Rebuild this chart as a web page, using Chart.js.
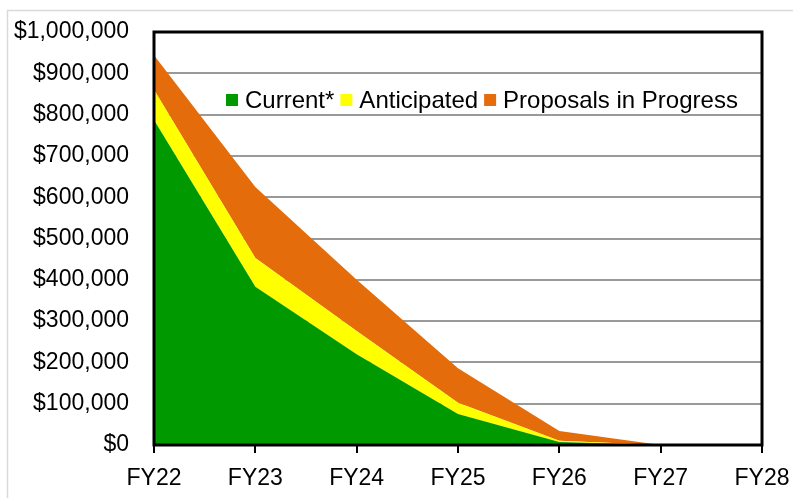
<!DOCTYPE html>
<html>
<head>
<meta charset="utf-8">
<script src="https://cdn.jsdelivr.net/npm/chart.js@4"></script>
<style>
  html, body { margin: 0; padding: 0; background: #fff; }
  canvas { display: block; }
</style>
</head>
<body>
<canvas id="chart" width="793" height="498"></canvas>
<script>
const years = ['FY22', 'FY23', 'FY24', 'FY25', 'FY26', 'FY27', 'FY28'];
const current = [787000, 383000, 220000, 75000, 7000, 0, 0];
const anticipated = [73000, 70000, 56000, 27000, 3000, 0, 0];
const proposals = [84000, 172000, 124000, 84000, 24000, 0, 0];

const FONT = '"Liberation Sans", Arial, sans-serif';

// frame around plot + light outer border
const framePlugin = {
  id: 'frame',
  beforeDraw(chart) {
    const ctx = chart.ctx;
    ctx.save();
    ctx.strokeStyle = '#d9d9d9';
    ctx.lineWidth = 1.5;
    ctx.strokeRect(7.5, 10.5, 900, 600);
    ctx.restore();
  },
  afterDraw(chart) {
    const a = chart.chartArea;
    const ctx = chart.ctx;
    ctx.save();
    ctx.strokeStyle = '#000';
    ctx.lineWidth = 3;
    ctx.strokeRect(a.left, a.top, a.right - a.left, a.bottom - a.top);
    ctx.restore();
  }
};

// legend drawn inside the plot area
const legendPlugin = {
  id: 'innerLegend',
  afterDraw(chart) {
    const ctx = chart.ctx;
    ctx.save();
    ctx.font = '24px ' + FONT;
    ctx.textBaseline = 'middle';
    let x = 226;
    const y = 100;
    chart.data.datasets.forEach(ds => {
      ctx.fillStyle = ds.backgroundColor;
      ctx.fillRect(x, y - 6, 12, 12);
      x += 19;
      ctx.fillStyle = '#000';
      ctx.fillText(ds.label, x, y + 1);
      x += ctx.measureText(ds.label).width + 6;
    });
    ctx.restore();
  }
};

new Chart(document.getElementById('chart'), {
  type: 'line',
  data: {
    labels: years,
    datasets: [
      { label: 'Current*', data: current, backgroundColor: '#009900', fill: 'origin' },
      { label: 'Anticipated', data: anticipated, backgroundColor: '#ffff00', fill: '-1' },
      { label: 'Proposals in Progress', data: proposals, backgroundColor: '#e46c0a', fill: '-1' }
    ]
  },
  options: {
    responsive: false,
    animation: false,
    devicePixelRatio: 1,
    elements: {
      line: { borderWidth: 0, tension: 0 },
      point: { radius: 0 }
    },
    layout: { padding: { top: 32, right: 31, left: 0, bottom: 0 } },
    plugins: {
      legend: { display: false },
      tooltip: { enabled: false }
    },
    scales: {
      x: {
        offset: false,
        grid: { drawOnChartArea: false, drawTicks: true, tickLength: 8, color: '#000', lineWidth: 2 },
        border: { display: false },
        ticks: { color: '#000', font: { family: FONT, size: 23 }, padding: 12, maxRotation: 0 },
        afterFit(scale) {
          scale.height = 53;
          scale.paddingLeft = 0;
          scale.paddingRight = 0;
        }
      },
      y: {
        stacked: true,
        min: 0,
        max: 1000000,
        grid: { color: '#999', lineWidth: 2, drawTicks: false },
        border: { display: false },
        ticks: {
          stepSize: 100000,
          color: '#000',
          padding: 25,
          font: { family: FONT, size: 23 },
          callback: v => '$' + v.toLocaleString('en-US')
        },
        afterFit(scale) {
          scale.width = 154;
          scale.paddingTop = 0;
          scale.paddingBottom = 0;
        }
      }
    }
  },
  plugins: [framePlugin, legendPlugin]
});
</script>
</body>
</html>
